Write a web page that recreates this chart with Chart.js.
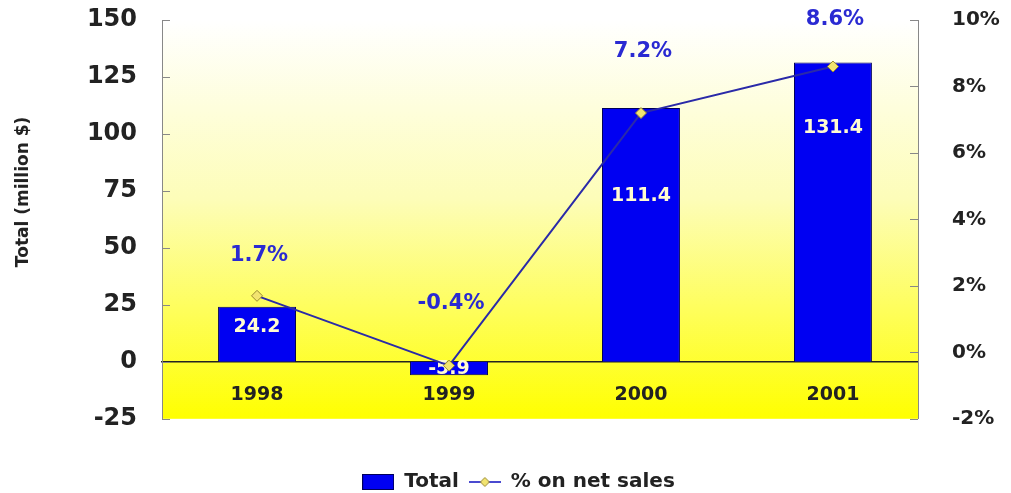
<!DOCTYPE html>
<html>
<head>
<meta charset="utf-8">
<script src="https://cdn.jsdelivr.net/npm/chart.js@4/dist/chart.umd.min.js"></script>
<style>
  html, body { margin: 0; padding: 0; background: #fff; }
  #wrap { width: 1011px; height: 493px; }
</style>
</head>
<body>
<div id="wrap"><canvas id="chart" width="1011" height="493"></canvas></div>
<script>
const years = ['1998', '1999', '2000', '2001'];
const totals = [24.2, -5.9, 111.4, 131.4];
const pctOnSales = [1.7, -0.4, 7.2, 8.6];
const yTitle = 'Total (million $)';

const FONT = '"DejaVu Sans", "Liberation Sans", Arial, sans-serif';
const INK = '#222222';
const BAR_BLUE = '#0000f2';
const LINE_BLUE = '#2a2aa8';

// where the value labels sit, in pixels from the mark
const barLabelDrop = [20, -6, 88, 66];
const pctLabelRise = [40, 62, 62, 47];

function legendIcon(kind) {
    const c = document.createElement('canvas');
    c.width = 32;
    c.height = 16;
    const g = c.getContext('2d');
    if (kind === 'bar') {
        g.fillStyle = BAR_BLUE;
        g.fillRect(1, 1, 30, 14);
        g.strokeStyle = '#00005a';
        g.strokeRect(0.5, 0.5, 31, 15);
    } else {
        g.strokeStyle = '#4a4ad0';
        g.lineWidth = 2;
        g.beginPath();
        g.moveTo(0, 8);
        g.lineTo(32, 8);
        g.stroke();
        g.fillStyle = '#f2e470';
        g.strokeStyle = '#9a8a30';
        g.lineWidth = 1;
        g.beginPath();
        g.moveTo(16, 3.5);
        g.lineTo(20.5, 8);
        g.lineTo(16, 12.5);
        g.lineTo(11.5, 8);
        g.closePath();
        g.fill();
        g.stroke();
    }
    return c;
}

const icons = [legendIcon('bar'), legendIcon('line')];

const chartBackground = {
    id: 'chartBackground',
    beforeDraw(chart) {
        const { ctx, chartArea: a } = chart;
        const grad = ctx.createLinearGradient(0, a.top, 0, a.bottom);
        grad.addColorStop(0, '#ffffff');
        grad.addColorStop(0.45, '#fdfdb8');
        grad.addColorStop(1, '#ffff00');
        ctx.save();
        ctx.fillStyle = grad;
        ctx.fillRect(a.left, a.top, a.right - a.left, a.bottom - a.top);
        ctx.restore();
    }
};

// short tick marks pointing into the plot, plus the left axis title
const axisExtras = {
    id: 'axisExtras',
    afterDraw(chart) {
        const { ctx, chartArea: a } = chart;
        ctx.save();
        ctx.strokeStyle = '#888888';
        ctx.lineWidth = 1;
        ctx.beginPath();
        chart.scales.y.ticks.forEach(t => {
            const py = Math.round(chart.scales.y.getPixelForValue(t.value)) + 0.5;
            ctx.moveTo(a.left, py);
            ctx.lineTo(a.left + 8, py);
        });
        chart.scales.y1.ticks.forEach(t => {
            const py = Math.round(chart.scales.y1.getPixelForValue(t.value)) + 0.5;
            ctx.moveTo(a.right, py);
            ctx.lineTo(a.right - 8, py);
        });
        ctx.stroke();

        ctx.translate(24, chart.scales.y.getPixelForValue(75) + 1);
        ctx.rotate(-Math.PI / 2);
        ctx.font = 'bold 17px ' + FONT;
        ctx.fillStyle = INK;
        ctx.textAlign = 'center';
        ctx.textBaseline = 'middle';
        ctx.fillText(yTitle, 0, 0);
        ctx.restore();
    }
};

const valueLabels = {
    id: 'valueLabels',
    afterDatasetDraw(chart, args) {
        if (args.index !== 0) return;
        const { ctx } = chart;
        ctx.save();
        ctx.font = 'bold 19px ' + FONT;
        ctx.fillStyle = '#fffbd0';
        ctx.textAlign = 'center';
        ctx.textBaseline = 'middle';
        args.meta.data.forEach((bar, i) => {
            ctx.fillText(totals[i].toFixed(1), bar.x, bar.y + barLabelDrop[i]);
        });
        ctx.restore();
    },
    afterDatasetsDraw(chart) {
        const { ctx } = chart;
        const meta = chart.getDatasetMeta(1);
        ctx.save();
        ctx.font = 'bold 21px ' + FONT;
        ctx.fillStyle = '#2a2ad2';
        ctx.textAlign = 'center';
        ctx.textBaseline = 'middle';
        meta.data.forEach((pt, i) => {
            ctx.fillText(pctOnSales[i].toFixed(1) + '%', pt.x + 2, pt.y - pctLabelRise[i]);
        });
        ctx.restore();
    }
};

const legendNudge = {
    id: 'legendNudge',
    afterLayout(chart) {
        chart.legend.left += 13;
        chart.legend.right += 13;
    }
};

new Chart(document.getElementById('chart'), {
    data: {
        datasets: [{
            type: 'bar',
            label: 'Total',
            data: totals.map((v, i) => ({ x: +years[i], y: v })),
            backgroundColor: BAR_BLUE,
            borderColor: '#00005a',
            borderWidth: 1,
            barPercentage: 0.406,
            categoryPercentage: 1,
            yAxisID: 'y',
            order: 2
        }, {
            type: 'line',
            label: '% on net sales',
            data: pctOnSales.map((v, i) => ({ x: +years[i], y: v })),
            borderColor: LINE_BLUE,
            borderWidth: 2,
            pointStyle: 'rectRot',
            pointRadius: 5.5,
            pointBackgroundColor: '#f2e470',
            pointBorderColor: '#9a8a30',
            pointBorderWidth: 1,
            tension: 0,
            yAxisID: 'y1',
            order: 1
        }]
    },
    options: {
        responsive: false,
        animation: false,
        layout: { padding: { top: 20, right: 0, bottom: -9, left: 0 } },
        scales: {
            x: {
                type: 'linear',
                position: { y: 0 },
                offset: false,
                min: 1997.505,
                max: 2001.443,
                afterBuildTicks(scale) {
                    scale.ticks = years.map(y => ({ value: +y }));
                },
                afterFit(scale) {
                    // the axis sits on the zero line, so it takes no room of its own
                    scale.height = 0;
                    scale.paddingLeft = 0;
                    scale.paddingRight = 0;
                },
                grid: { display: false, drawTicks: false, offset: false },
                border: { display: true, color: '#222222', width: 1.5 },
                ticks: {
                    padding: 22,
                    color: INK,
                    font: { family: FONT, size: 19, weight: 'bold' },
                    callback: v => String(v)
                }
            },
            y: {
                position: 'left',
                min: -25,
                max: 150,
                afterFit(scale) {
                    scale.width = 162;
                    scale.paddingTop = 0;
                    scale.paddingBottom = 0;
                },
                grid: { display: false, drawTicks: false },
                border: { display: true, color: '#888888', width: 1 },
                ticks: {
                    stepSize: 25,
                    padding: 25,
                    color: INK,
                    font: { family: FONT, size: 24, weight: 'bold' }
                }
            },
            y1: {
                position: 'right',
                min: -2,
                max: 10,
                afterFit(scale) {
                    scale.width = 93;
                    scale.paddingTop = 0;
                    scale.paddingBottom = 0;
                },
                grid: { display: false, drawTicks: false },
                border: { display: true, color: '#888888', width: 1 },
                ticks: {
                    stepSize: 2,
                    padding: 34,
                    color: INK,
                    font: { family: FONT, size: 20, weight: 'bold' },
                    callback: v => v + '%'
                }
            }
        },
        plugins: {
            tooltip: { enabled: false },
            legend: {
                position: 'bottom',
                title: { display: true, text: '', padding: { top: 42, bottom: 0 }, font: { size: 1 } },
                labels: {
                    usePointStyle: true,
                    pointStyleWidth: 32,
                    padding: 10,
                    color: INK,
                    font: { family: FONT, size: 20, weight: 'bold' },
                    generateLabels(chart) {
                        return chart.data.datasets.map((ds, i) => ({
                            text: ds.label,
                            pointStyle: icons[i],
                            fillStyle: 'transparent',
                            strokeStyle: 'transparent',
                            lineWidth: 0,
                            fontColor: INK,
                            datasetIndex: i,
                            hidden: false
                        }));
                    }
                }
            }
        }
    },
    plugins: [chartBackground, axisExtras, valueLabels, legendNudge]
});
</script>
</body>
</html>
